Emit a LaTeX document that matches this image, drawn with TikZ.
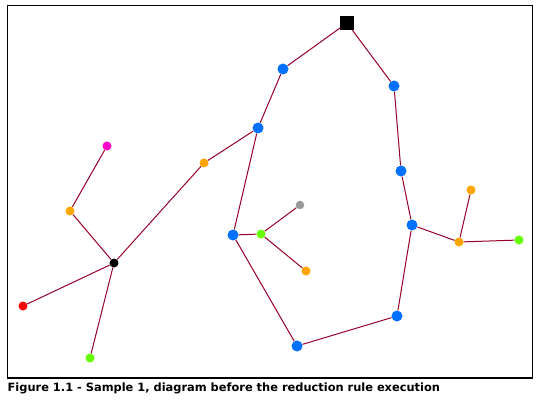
\documentclass[tikz,border=0pt]{standalone}
\usepackage{fontspec}
\newfontfamily\capfont{DejaVu Sans}
\definecolor{edgecol}{RGB}{150,0,40}
\definecolor{blu}{RGB}{0,112,255}
\definecolor{org}{RGB}{255,165,0}
\definecolor{mag}{RGB}{255,0,204}
\definecolor{grn}{RGB}{102,255,0}
\definecolor{gry}{RGB}{153,153,153}

\begin{document}
\begin{tikzpicture}[x=1pt,y=-1pt,
    dot/.style={shape=circle,inner sep=0pt,minimum size=#1},
    big/.style={dot=11pt,fill=blu},
    small/.style={dot=9pt},
    link/.style={draw=edgecol,line width=1pt}]
      \useasboundingbox (0,0) rectangle (539,404);
      \draw[line width=1.2pt] (7.5,5.5) rectangle (532.5,378);
      \node[fill=black,shape=rectangle,inner sep=0pt,minimum size=14pt] (root) at (347,23) {};
      \node[big] (b1) at (283,69) {};
      \node[big] (b2) at (394,86) {};
      \node[big] (b3) at (258,128) {};
      \node[big] (b4) at (401,171) {};
      \node[big] (b5) at (412,225) {};
      \node[big] (b6) at (233,235) {};
      \node[big] (b7) at (397,316) {};
      \node[big] (b8) at (297,346) {};
      \node[small,fill=org] (o1) at (204,163) {};
      \node[small,fill=org] (o2) at (70,211) {};
      \node[small,fill=org] (o3) at (471,190) {};
      \node[small,fill=org] (o4) at (459,242) {};
      \node[small,fill=org] (o5) at (306,271) {};
      \node[small,fill=mag] (m1) at (107,146) {};
      \node[small,fill=black] (hub) at (114,263) {};
      \node[small,fill=red] (r1) at (23,306) {};
      \node[small,fill=grn] (g1) at (90,358) {};
      \node[small,fill=grn] (g2) at (261,234) {};
      \node[small,fill=grn] (g3) at (519,240) {};
      \node[dot=8.5pt,fill=gry] (gr) at (300,205) {};
      \draw[link] (root)--(b1)--(b3)--(b6)--(b8)--(b7)--(b5)--(b4)--(b2)--(root);
      \draw[link] (b3)--(o1)--(hub)--(o2)--(m1);
      \draw[link] (hub)--(r1);
      \draw[link] (hub)--(g1);
      \draw[link] (b6)--(g2)--(gr);
      \draw[link] (g2)--(o5);
      \draw[link] (b5)--(o4)--(o3);
      \draw[link] (o4)--(g3);
      \node[anchor=base west,inner sep=0pt,font=\capfont\bfseries\fontsize{11.4}{13}\selectfont] (cap) at (7.5,391) {Figure 1.1 - Sample 1, diagram before the reduction rule execution};
    \end{tikzpicture}
\end{document}
